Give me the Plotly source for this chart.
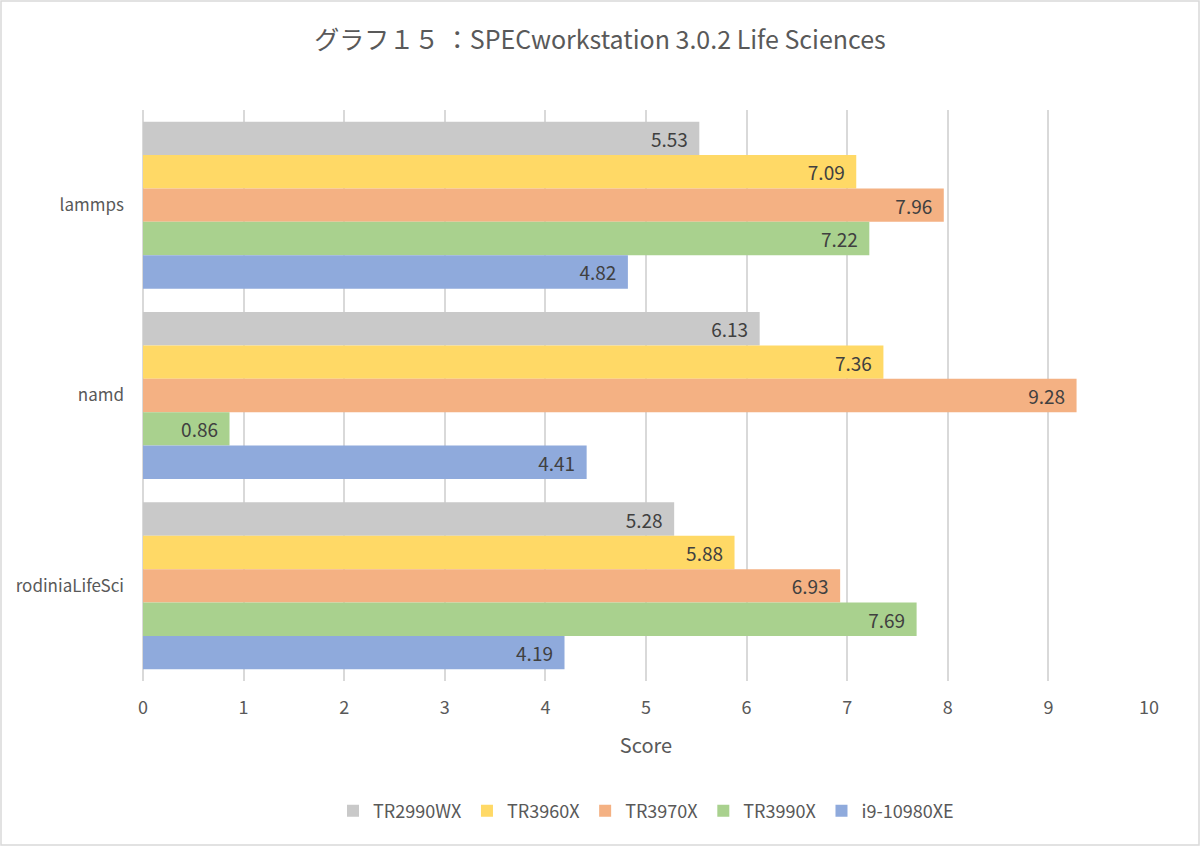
import plotly.graph_objects as go

categories = ["lammps", "namd", "rodiniaLifeSci"]
series_names = ["TR2990WX", "TR3960X", "TR3970X", "TR3990X", "i9-10980XE"]
tr2990wx = [5.53, 6.13, 5.28]
tr3960x = [7.09, 7.36, 5.88]
tr3970x = [7.96, 9.28, 6.93]
tr3990x = [7.22, 0.86, 7.69]
i9_10980xe = [4.82, 4.41, 4.19]
series_values = [tr2990wx, tr3960x, tr3970x, tr3990x, i9_10980xe]
colors = ["#C9C9C9", "#FFD966", "#F4B183", "#A9D18E", "#8FAADC"]
x_ticks = list(range(0, 11))

FONT = "Noto Sans CJK JP, Open Sans, sans-serif"
W, H = 1200, 846
L, R, T, B = 143, 51, 110, 165

fig = go.Figure()
for name, vals, col in zip(series_names, series_values, colors):
    fig.add_trace(go.Bar(
        y=categories, x=vals, name=name, orientation="h",
        marker=dict(color=col, line=dict(width=0)),
        text=[f"{v:.2f}\u00a0\u00a0" for v in vals],
        textposition="inside", insidetextanchor="end", textangle=0,
        constraintext="none",
        textfont=dict(size=19, color="#404040", family=FONT),
        hoverinfo="skip",
    ))

pw, ph = W - L - R, H - T - B
def px(x):
    return (x - L) / pw
def py(y):
    return 1 - (y - T) / ph

fig.update_layout(
    width=W, height=H,
    margin=dict(l=L, r=R, t=T, b=B),
    paper_bgcolor="white", plot_bgcolor="white",
    barmode="group", bargap=0.123, bargroupgap=0,
    title=dict(text="グラフ１５ ：SPECworkstation 3.0.2 Life Sciences",
               x=0.5, xanchor="center", y=1 - 40 / H, yanchor="middle",
               font=dict(size=25, color="#595959", family=FONT)),
    font=dict(family=FONT, color="#595959"),
    xaxis=dict(range=[0, 10], tickvals=x_ticks, showgrid=True,
               gridcolor="#D9D9D9", gridwidth=1.5, zeroline=True,
               zerolinecolor="#D9D9D9", zerolinewidth=1.5,
               showline=False, ticks="", ticklabelstandoff=14,
               tickfont=dict(size=18, color="#595959"),
               title=dict(text="Score", font=dict(size=20, color="#595959"), standoff=20)),
    yaxis=dict(autorange="reversed", showgrid=False, zeroline=False,
               showline=False, ticks="", ticklabelstandoff=18,
               tickfont=dict(size=17, color="#595959")),
    legend=dict(orientation="h", x=0.5, xanchor="center",
                y=py(811), yanchor="middle",
                font=dict(size=18, color="#595959"),
                traceorder="normal", itemwidth=30),
    showlegend=True,
    shapes=[dict(type="rect", xref="paper", yref="paper",
                 x0=px(1), x1=px(W - 1), y0=py(H - 1), y1=py(1),
                 line=dict(color="#D9D9D9", width=1.5), fillcolor="rgba(0,0,0,0)",
                 layer="below")],
)

fig.write_html("out.html", config={"displayModeBar": False},
               post_script="document.body.style.margin='0';")
